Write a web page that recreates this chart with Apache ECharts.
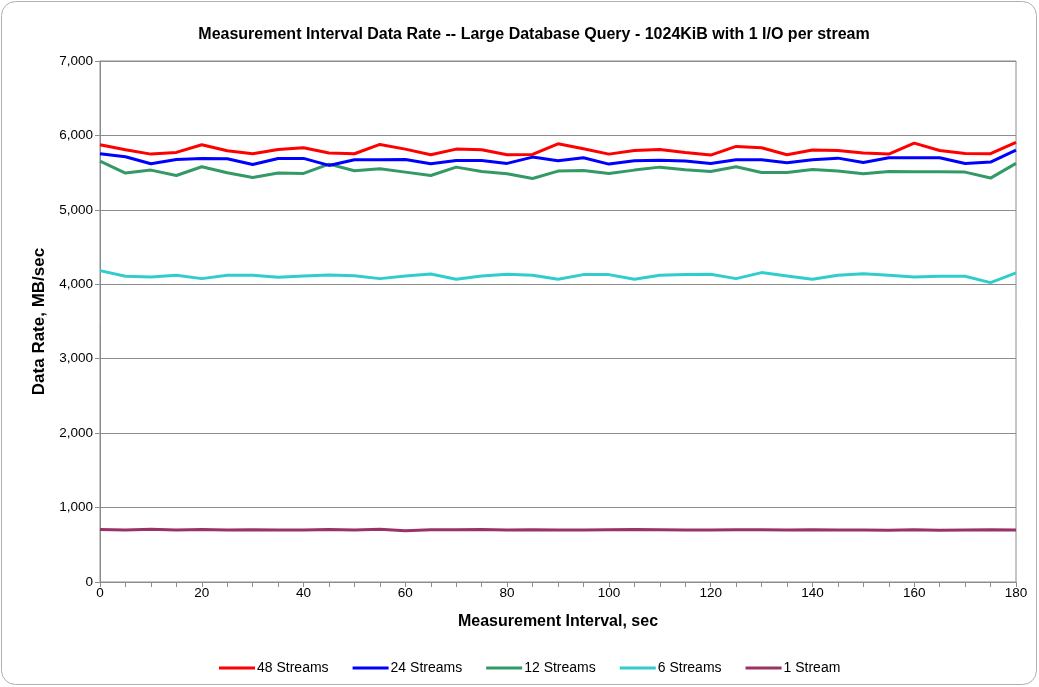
<!DOCTYPE html>
<html>
<head>
<meta charset="utf-8">
<script src="https://cdn.jsdelivr.net/npm/echarts@6/dist/echarts.min.js"></script>
<style>
  html, body { margin: 0; padding: 0; background: #fff; }
  #chart { width: 1039px; height: 687px; }
</style>
</head>
<body>
<div id="chart"></div>
<script>
// Measurement interval (seconds), sampled every 5 s
const seconds = [0,5,10,15,20,25,30,35,40,45,50,55,60,65,70,75,80,85,90,
  95,100,105,110,115,120,125,130,135,140,145,150,155,160,165,170,175,180];

// Data rate, MB/sec, per stream count
const streams48 = [5875,5807,5749,5772,5875,5794,5754,5812,5834,5763,5754,5879,5816,5740,5816,5807,5740,5745,5888,
  5821,5749,5798,5812,5772,5736,5852,5834,5740,5803,5798,5763,5749,5897,5798,5758,5754,5906];
const streams24 = [5754,5713,5619,5677,5691,5686,5610,5691,5691,5597,5673,5673,5677,5619,5664,5664,5624,5709,5660,
  5700,5615,5660,5668,5655,5624,5673,5673,5633,5673,5695,5637,5700,5700,5700,5624,5642,5803];
const streams12 = [5655,5494,5534,5462,5579,5498,5436,5494,5489,5615,5525,5552,5507,5462,5574,5516,5485,5422,5521,
  5530,5489,5534,5574,5539,5516,5579,5503,5503,5543,5521,5485,5516,5512,5512,5507,5427,5624];
const streams6 = [4184,4108,4099,4121,4076,4121,4121,4094,4112,4125,4116,4076,4112,4139,4067,4112,4134,4121,4067,
  4130,4130,4067,4121,4130,4134,4076,4157,4112,4067,4121,4143,4121,4099,4108,4108,4022,4152];
const streams1 = [705,700,708,697,706,699,702,700,698,706,697,708,690,703,702,704,700,703,698,
  700,702,704,703,700,699,701,703,700,702,698,700,696,702,696,700,702,698];

const seriesNames = ['48 Streams', '24 Streams', '12 Streams', '6 Streams', '1 Stream'];
const seriesColors = ['#ff0000', '#0000ff', '#339966', '#33cccc', '#993366'];
const seriesValues = [streams48, streams24, streams12, streams6, streams1];

const FONT = '"Liberation Sans", Arial, sans-serif';
const chart = echarts.init(document.getElementById('chart'), null, { renderer: 'canvas' });

const series = seriesNames.map((name, i) => ({
  name: name,
  type: 'line',
  symbol: 'none',
  smooth: false,
  animation: false,
  data: seconds.map((s, j) => [s, seriesValues[i][j]]),
  lineStyle: { color: seriesColors[i], width: 3 },
  itemStyle: { color: seriesColors[i] },
  z: 10 - i
}));

chart.setOption({
  backgroundColor: '#ffffff',
  animation: false,
  graphic: [{
    type: 'rect',
    shape: { x: 1.5, y: 1.5, width: 1035, height: 683, r: 14 },
    style: { fill: 'none', stroke: '#b0b0b0', lineWidth: 1 },
    silent: true,
    z: -10
  }],
  title: {
    text: 'Measurement Interval Data Rate -- Large Database Query - 1024KiB with 1 I/O per stream',
    left: 529,
    textAlign: 'center',
    top: 22,
    textStyle: { fontFamily: FONT, fontSize: 16, fontWeight: 'bold', color: '#000' }
  },
  legend: {
    top: 656,
    left: 214,
    itemWidth: 36,
    itemHeight: 10,
    itemGap: 24,
    icon: 'path://M0,4 L36,4 L36,7 L0,7 Z',
    data: seriesNames,
    textStyle: { fontFamily: FONT, fontSize: 14, color: '#000', padding: [0, 0, 0, -3] }
  },
  grid: {
    left: 100, right: 23, top: 61, bottom: 105,
    show: true,
    borderColor: '#8c8c8c',
    borderWidth: 1,
    backgroundColor: '#fff'
  },
  xAxis: {
    type: 'value',
    min: 0, max: 180, interval: 20,
    name: 'Measurement Interval, sec',
    nameLocation: 'middle',
    nameGap: 32,
    nameTextStyle: { fontFamily: FONT, fontSize: 16, fontWeight: 'bold', color: '#000' },
    axisLine: { show: true, lineStyle: { color: '#8c8c8c', width: 1 } },
    axisTick: { show: true, inside: false, length: 5, lineStyle: { color: '#8c8c8c' } },
    minorTick: { show: true, splitNumber: 4, length: 5, lineStyle: { color: '#8c8c8c' } },
    axisLabel: { fontFamily: FONT, fontSize: 13.5, color: '#000', margin: 4 },
    splitLine: { show: false }
  },
  yAxis: {
    type: 'value',
    min: 0, max: 7000, interval: 1000,
    name: 'Data Rate, MB/sec',
    nameLocation: 'middle',
    nameGap: 52,
    nameRotate: 90,
    nameTextStyle: { fontFamily: FONT, fontSize: 17, fontWeight: 'bold', color: '#000' },
    axisLine: { show: true, lineStyle: { color: '#8c8c8c', width: 1 } },
    axisTick: { show: true, inside: false, length: 5, lineStyle: { color: '#8c8c8c' } },
    axisLabel: {
      fontFamily: FONT, fontSize: 13.5, color: '#000', margin: 7,
      formatter: v => v.toLocaleString('en-US')
    },
    splitLine: { show: true, lineStyle: { color: '#8c8c8c', width: 1 } }
  },
  series: series
});
</script>
</body>
</html>
